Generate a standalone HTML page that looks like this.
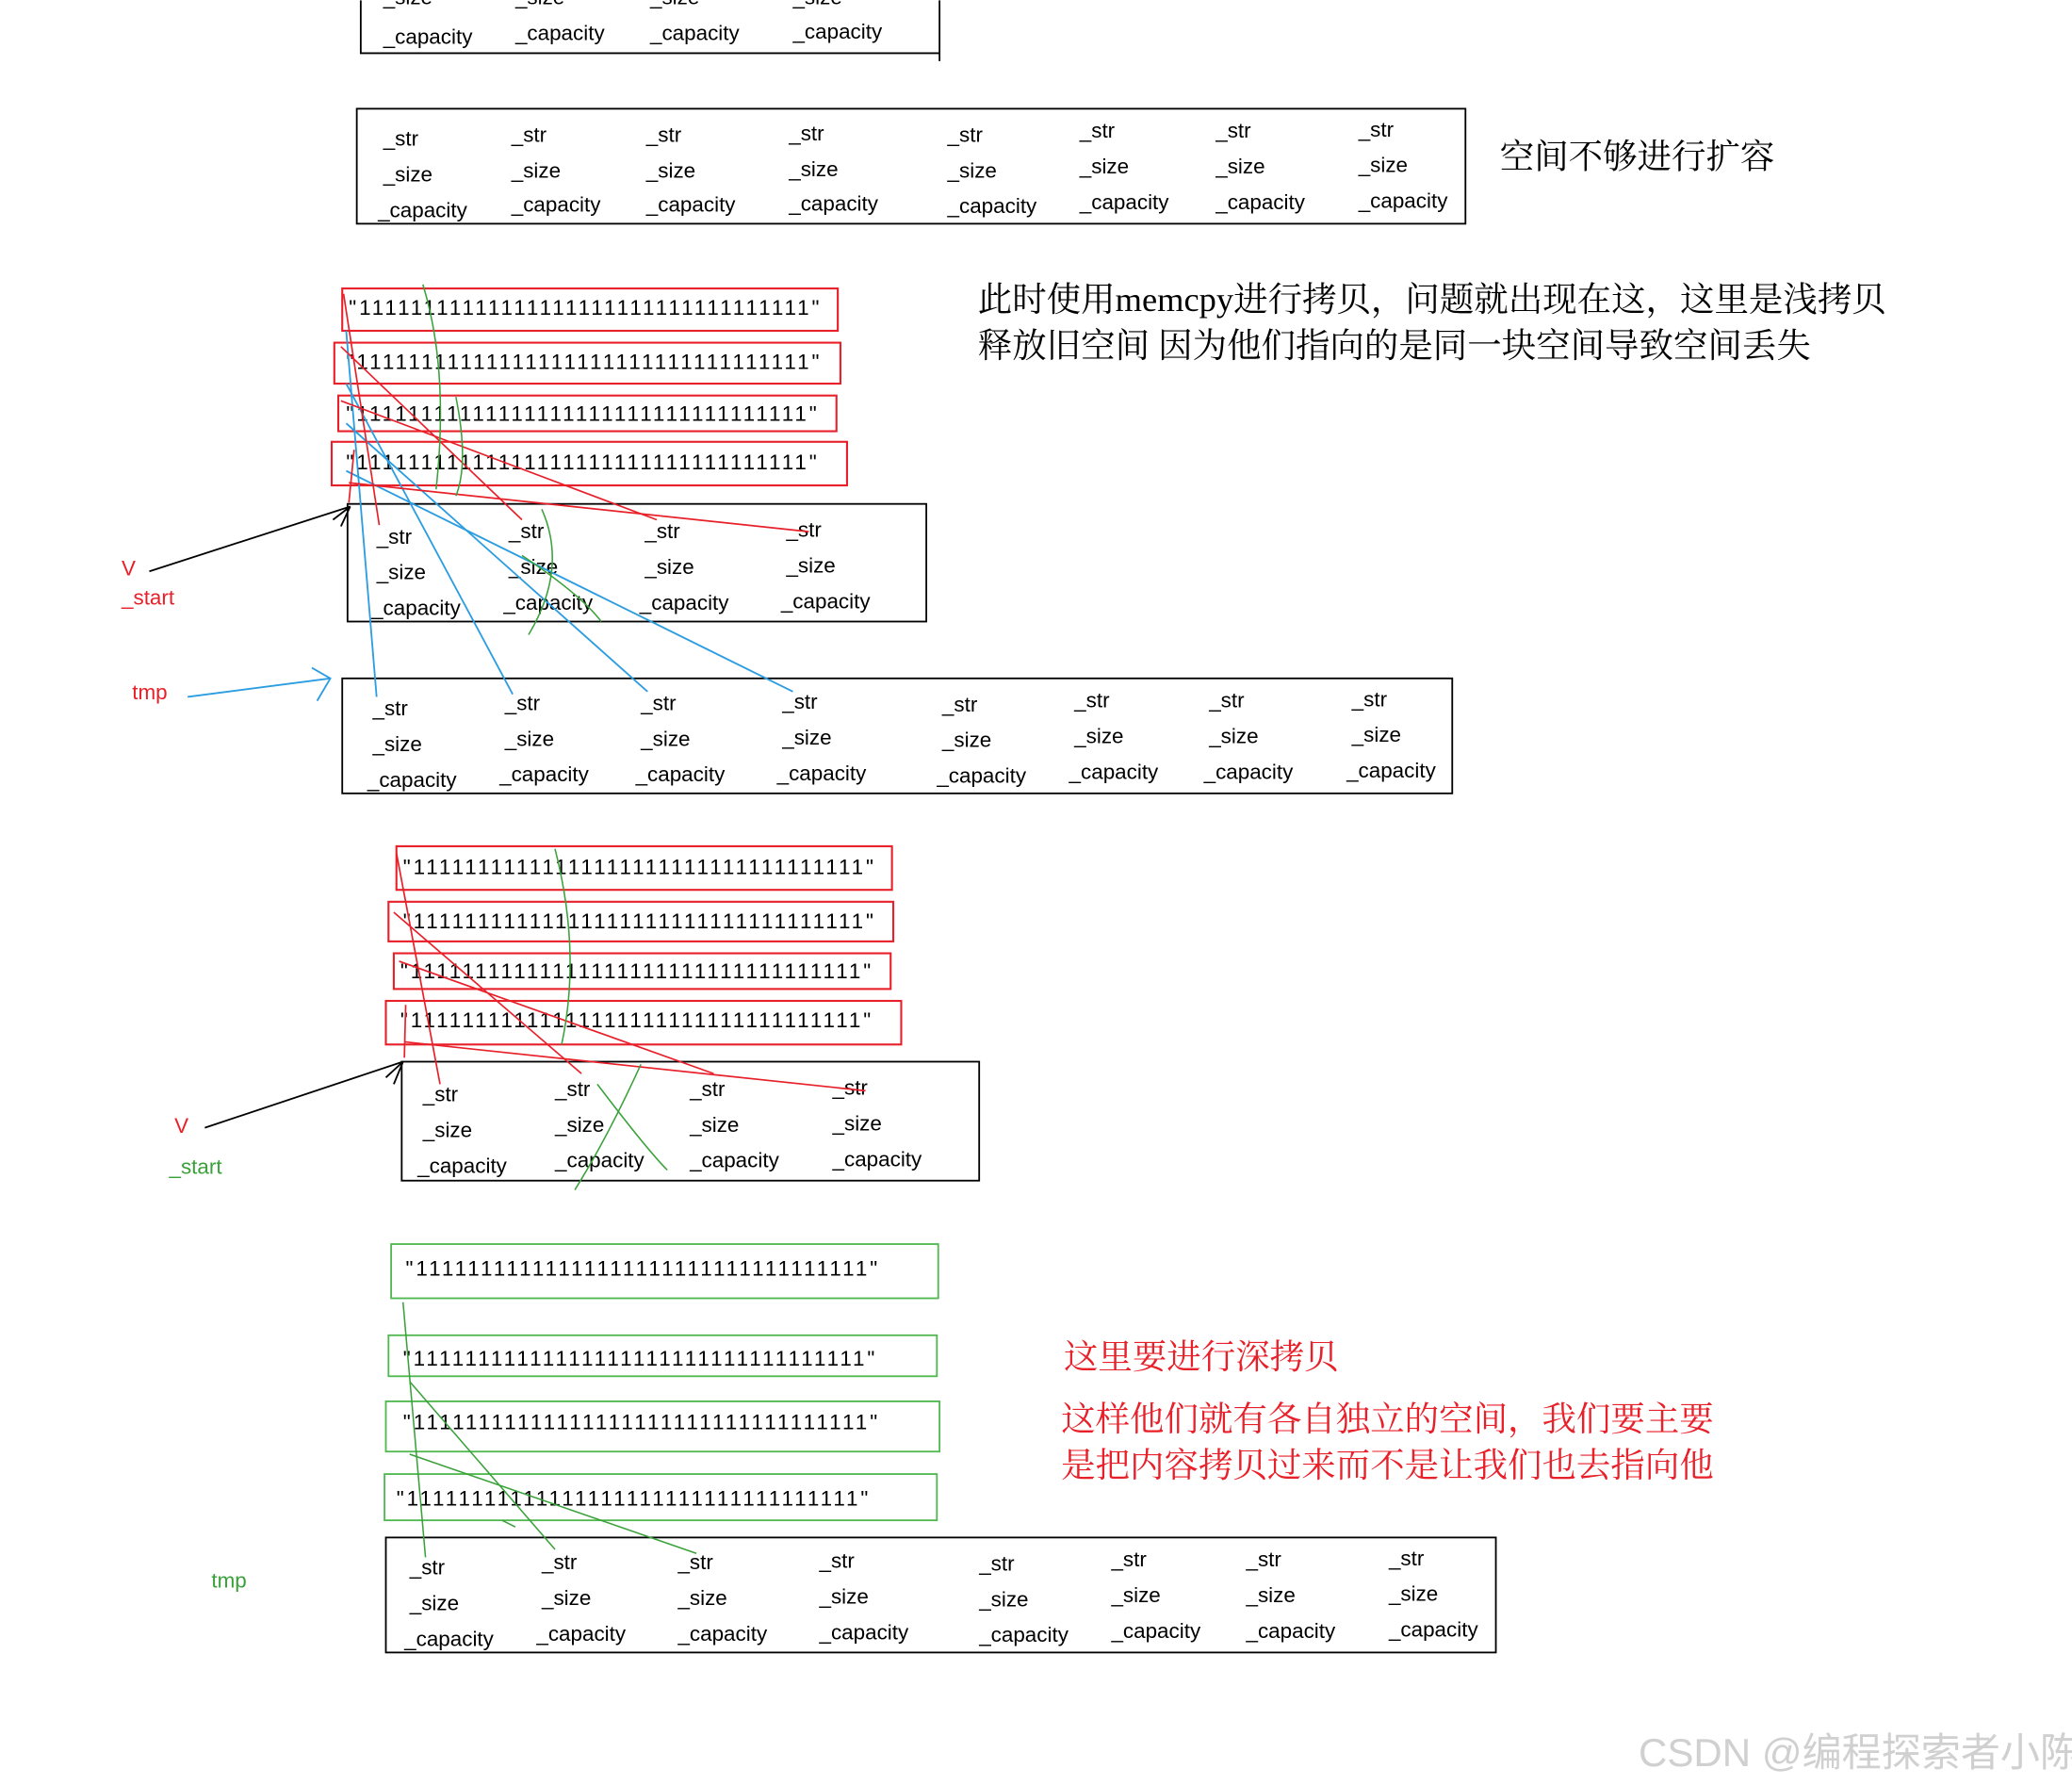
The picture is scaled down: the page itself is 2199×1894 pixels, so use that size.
<!DOCTYPE html>
<html><head><meta charset="utf-8">
<style>
html,body{margin:0;padding:0;background:#fff;width:2199px;height:1894px;overflow:hidden}
svg{display:block}
text{font-family:"Liberation Sans","Noto Sans CJK SC",sans-serif}
.f{font-size:16px;fill:#000}
.s{font-family:"Liberation Mono","Noto Sans CJK SC",monospace;font-size:16px;fill:#000}
.cn{font-family:"Liberation Serif","Noto Serif CJK SC",serif;font-size:26px}
</style></head><body>
<svg width="2199" height="1894" viewBox="0 0 1568 1350" xmlns="http://www.w3.org/2000/svg">
<g fill="none" stroke="#000" stroke-width="1.3">
<path d="M273 0 V40 H711 V0 M711 40 V46"/>
<rect x="270" y="82" width="839" height="87"/>
<rect x="263" y="381" width="438" height="89"/>
<rect x="259" y="513" width="840" height="87"/>
<rect x="304" y="803" width="437" height="90"/>
<rect x="292" y="1163" width="840" height="87"/>
<line x1="113" y1="432" x2="265" y2="383"/>
<path d="M252 393 L265 383 L258 398"/>
<line x1="155" y1="853" x2="305" y2="803"/>
<path d="M292 815 L305 803 L298 820"/>
</g>
<g class="f">
<text x="290" y="3">_size</text><text x="390" y="3">_size</text><text x="492" y="3">_size</text><text x="600" y="3">_size</text>
<text x="290" y="33">_capacity</text><text x="390" y="30">_capacity</text><text x="492" y="30">_capacity</text><text x="600" y="29">_capacity</text>
</g>
<g class="f" id="r8a">
<text x="290" y="110">_str</text><text x="387" y="107">_str</text><text x="489" y="107">_str</text><text x="597" y="106">_str</text><text x="717" y="107">_str</text><text x="817" y="104">_str</text><text x="920" y="104">_str</text><text x="1028" y="103">_str</text>
<text x="290" y="137">_size</text><text x="387" y="134">_size</text><text x="489" y="134">_size</text><text x="597" y="133">_size</text><text x="717" y="134">_size</text><text x="817" y="131">_size</text><text x="920" y="131">_size</text><text x="1028" y="130">_size</text>
<text x="286" y="164">_capacity</text><text x="387" y="160">_capacity</text><text x="489" y="160">_capacity</text><text x="597" y="159">_capacity</text><text x="717" y="161">_capacity</text><text x="817" y="158">_capacity</text><text x="920" y="158">_capacity</text><text x="1028" y="157">_capacity</text>
</g>
<text x="1135" y="127" class="cn">空间不够进行扩容</text>
<text x="740" y="235" class="cn">此时使用memcpy进行拷贝，问题就出现在这，这里是浅拷贝</text>
<text x="740" y="270" class="cn">释放旧空间  因为他们指向的是同一块空间导致空间丢失</text>

<g fill="none" stroke="#e8202a" stroke-width="1.5">
<rect x="259" y="218" width="375" height="32"/><rect x="253" y="259" width="383" height="31"/>
<rect x="256" y="299" width="377" height="27"/><rect x="251" y="334" width="390" height="33"/>
<rect x="300" y="640" width="375" height="33"/><rect x="294" y="682" width="382" height="30"/>
<rect x="298" y="721" width="376" height="27"/><rect x="292" y="757" width="390" height="33"/>
</g>
<g class="s">
<text x="264" y="238" textLength="356">"11111111111111111111111111111111111"</text>
<text x="262" y="279" textLength="358">"11111111111111111111111111111111111"</text>
<text x="262" y="318" textLength="356">"11111111111111111111111111111111111"</text>
<text x="262" y="355" textLength="356">"11111111111111111111111111111111111"</text>
<text x="305" y="661" textLength="356">"11111111111111111111111111111111111"</text>
<text x="305" y="702" textLength="356">"11111111111111111111111111111111111"</text>
<text x="303" y="740" textLength="356">"11111111111111111111111111111111111"</text>
<text x="303" y="777" textLength="356">"11111111111111111111111111111111111"</text>
<text x="307" y="965" textLength="357">"11111111111111111111111111111111111"</text>
<text x="305" y="1033" textLength="357">"11111111111111111111111111111111111"</text>
<text x="305" y="1081" textLength="359">"11111111111111111111111111111111111"</text>
<text x="300" y="1139" textLength="357">"11111111111111111111111111111111111"</text>
</g>
<g fill="none" stroke="#4fb84f" stroke-width="1.3">
<rect x="296" y="941" width="414" height="41"/><rect x="294" y="1010" width="415" height="31"/>
<rect x="292" y="1060" width="419" height="38"/><rect x="291" y="1115" width="418" height="35"/>
</g>

<g class="f">
<text x="285" y="411">_str</text><text x="385" y="407">_str</text><text x="488" y="407">_str</text><text x="595" y="406">_str</text>
<text x="285" y="438">_size</text><text x="385" y="434">_size</text><text x="488" y="434">_size</text><text x="595" y="433">_size</text>
<text x="281" y="465">_capacity</text><text x="381" y="461">_capacity</text><text x="484" y="461">_capacity</text><text x="591" y="460">_capacity</text>
</g>
<g class="f">
<text x="282" y="541">_str</text><text x="382" y="537">_str</text><text x="485" y="537">_str</text><text x="592" y="536">_str</text><text x="713" y="538">_str</text><text x="813" y="535">_str</text><text x="915" y="535">_str</text><text x="1023" y="534">_str</text>
<text x="282" y="568">_size</text><text x="382" y="564">_size</text><text x="485" y="564">_size</text><text x="592" y="563">_size</text><text x="713" y="565">_size</text><text x="813" y="562">_size</text><text x="915" y="562">_size</text><text x="1023" y="561">_size</text>
<text x="278" y="595">_capacity</text><text x="378" y="591">_capacity</text><text x="481" y="591">_capacity</text><text x="588" y="590">_capacity</text><text x="709" y="592">_capacity</text><text x="809" y="589">_capacity</text><text x="911" y="589">_capacity</text><text x="1019" y="588">_capacity</text>
</g>
<g class="f">
<text x="320" y="833">_str</text><text x="420" y="829">_str</text><text x="522" y="829">_str</text><text x="630" y="828">_str</text>
<text x="320" y="860">_size</text><text x="420" y="856">_size</text><text x="522" y="856">_size</text><text x="630" y="855">_size</text>
<text x="316" y="887">_capacity</text><text x="420" y="883">_capacity</text><text x="522" y="883">_capacity</text><text x="630" y="882">_capacity</text>
</g>
<g class="f">
<text x="310" y="1191">_str</text><text x="410" y="1187">_str</text><text x="513" y="1187">_str</text><text x="620" y="1186">_str</text><text x="741" y="1188">_str</text><text x="841" y="1185">_str</text><text x="943" y="1185">_str</text><text x="1051" y="1184">_str</text>
<text x="310" y="1218">_size</text><text x="410" y="1214">_size</text><text x="513" y="1214">_size</text><text x="620" y="1213">_size</text><text x="741" y="1215">_size</text><text x="841" y="1212">_size</text><text x="943" y="1212">_size</text><text x="1051" y="1211">_size</text>
<text x="306" y="1245">_capacity</text><text x="406" y="1241">_capacity</text><text x="513" y="1241">_capacity</text><text x="620" y="1240">_capacity</text><text x="741" y="1242">_capacity</text><text x="841" y="1239">_capacity</text><text x="943" y="1239">_capacity</text><text x="1051" y="1238">_capacity</text>
</g>

<text x="92" y="435" font-size="16" fill="#e8202a">V</text>
<text x="92" y="457" font-size="16" fill="#e8202a">_start</text>
<text x="100" y="529" font-size="16" fill="#e8202a">tmp</text>
<text x="132" y="857" font-size="16" fill="#e8202a">V</text>
<text x="128" y="888" font-size="16" fill="#3aa13a">_start</text>
<text x="160" y="1201" font-size="16" fill="#3aa13a">tmp</text>

<g fill="none" stroke="#2b9de0" stroke-width="1.3">
<line x1="142" y1="527" x2="250" y2="513"/><path d="M236 505 L250 513 L240 530"/>
<line x1="285" y1="527" x2="262" y2="250"/>
<line x1="388" y1="525" x2="262" y2="290"/>
<line x1="490" y1="523" x2="262" y2="320"/>
<line x1="600" y1="523" x2="262" y2="356"/>
</g>
<g fill="none" stroke="#e8202a" stroke-width="1.2">
<line x1="287" y1="397" x2="260" y2="222"/><line x1="395" y1="393" x2="258" y2="262"/>
<line x1="497" y1="393" x2="258" y2="303"/><line x1="612" y1="402" x2="264" y2="365"/>
<line x1="264" y1="380" x2="268" y2="340"/>
<line x1="333" y1="820" x2="300" y2="645"/><line x1="440" y1="812" x2="298" y2="690"/>
<line x1="540" y1="812" x2="302" y2="727"/><line x1="655" y1="825" x2="306" y2="788"/>
<line x1="306" y1="800" x2="307" y2="760"/>
</g>
<g fill="none" stroke="#3aa13a" stroke-width="1.1">
<path d="M320 215 Q340 280 330 370"/><path d="M345 300 Q355 350 345 375"/>
<path d="M410 385 Q430 430 400 480"/><path d="M395 420 Q440 450 455 470"/>
<path d="M420 642 Q440 720 425 790"/><path d="M485 805 Q460 860 435 900"/><path d="M452 820 Q490 870 505 885"/>
<line x1="305" y1="985" x2="322" y2="1178"/><line x1="310" y1="1045" x2="420" y2="1172"/>
<line x1="310" y1="1100" x2="527" y2="1175"/><line x1="380" y1="1150" x2="390" y2="1155"/>
</g>

<text x="805" y="1035" class="cn" fill="#e8202a">这里要进行深拷贝</text>
<text x="803" y="1082" class="cn" fill="#e8202a">这样他们就有各自独立的空间，我们要主要</text>
<text x="803" y="1117" class="cn" fill="#e8202a">是把内容拷贝过来而不是让我们也去指向他</text>
<text x="1240" y="1336" font-size="30" fill="#d0d0d0">CSDN @编程探索者小陈</text>
</svg>
</body></html>
